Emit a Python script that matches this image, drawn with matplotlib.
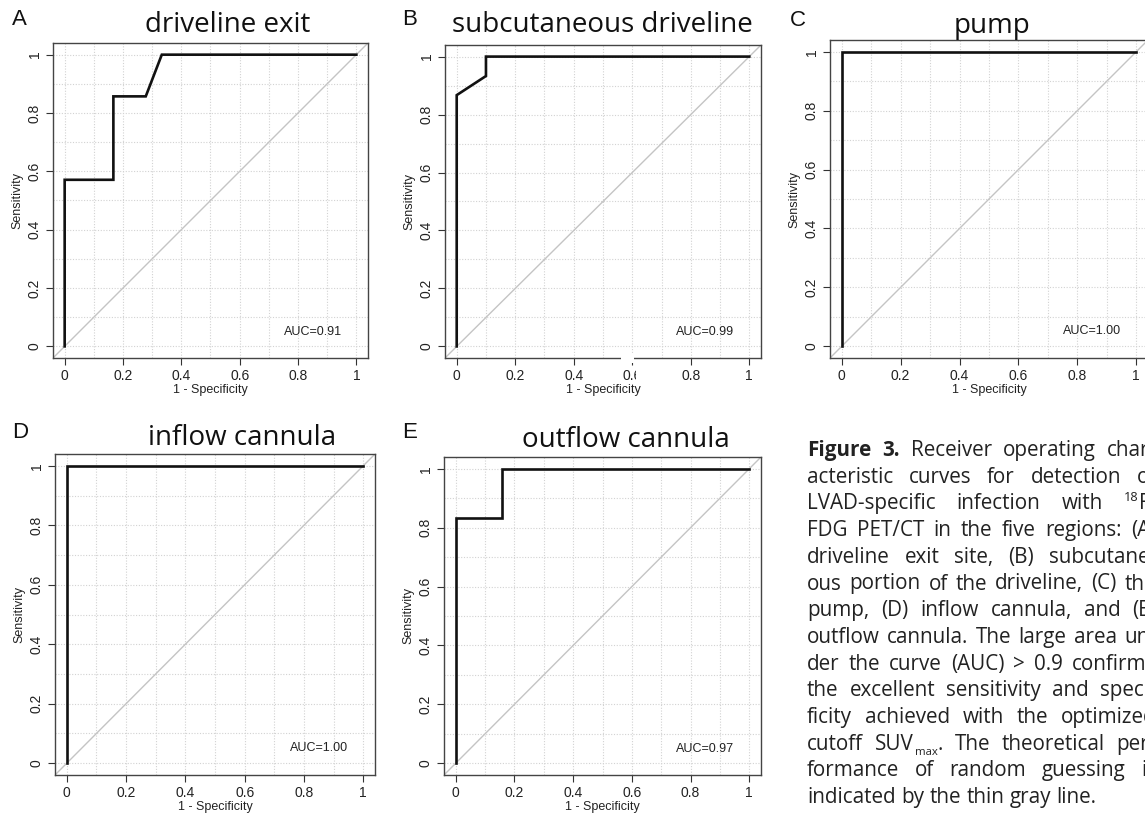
import matplotlib
matplotlib.use("Agg")
import matplotlib.pyplot as plt
from matplotlib.ticker import MultipleLocator
from matplotlib.patches import Rectangle

# ---------------- data ----------------
PANEL_LETTERS = ["A", "B", "C", "D", "E"]
TITLES = ["driveline exit", "subcutaneous driveline", "pump", "inflow cannula", "outflow cannula"]

A_FPR = [0, 0, 0.167, 0.167, 0.278, 0.333, 1]
A_TPR = [0, 0.571, 0.571, 0.857, 0.857, 1, 1]
B_FPR = [0, 0, 0.1, 0.1, 1]
B_TPR = [0, 0.867, 0.933, 1, 1]
C_FPR = [0, 0, 1]
C_TPR = [0, 1, 1]
D_FPR = [0, 0, 1]
D_TPR = [0, 1, 1]
E_FPR = [0, 0, 0.158, 0.158, 1]
E_TPR = [0, 0.833, 0.833, 1, 1]

AUC_LABELS = ["AUC=0.91", "AUC=0.99", "AUC=1.00", "AUC=1.00", "AUC=0.97"]
TICKS = [0, 0.2, 0.4, 0.6, 0.8, 1]
TICK_LABELS = ["0", "0.2", "0.4", "0.6", "0.8", "1"]
XLABEL = "1 - Specificity"
YLABEL = "Sensitivity"

CAPTION_LINES = [
    "Figure 3. Receiver operating char-",
    "acteristic curves for detection of",
    "LVAD-specific infection with ¹⁸F-",
    "FDG PET/CT in the five regions: (A)",
    "driveline exit site, (B) subcutane-",
    "ous portion of the driveline, (C) the",
    "pump, (D) inflow cannula, and (E)",
    "outflow cannula. The large area un-",
    "der the curve (AUC) > 0.9 confirms",
    "the excellent sensitivity and speci-",
    "ficity achieved with the optimized",
    "cutoff SUVmax. The theoretical per-",
    "formance of random guessing is",
    "indicated by the thin gray line.",
]

CURVES = [(A_FPR, A_TPR), (B_FPR, B_TPR), (C_FPR, C_TPR), (D_FPR, D_TPR), (E_FPR, E_TPR)]

# ---------------- layout (pixels) ----------------
W, H = 1145, 817
AX_RECTS = [  # left, top, right, bottom
    (53, 43, 368, 358),
    (445, 45, 761, 358),
    (830, 40, 1148, 358),
    (55, 454, 375, 775),
    (444, 457, 761, 775),
]
TITLE_POS = [(228, 32), (602, 32), (992, 33), (242, 445), (626, 447)]
LETTER_POS = [(12, 25), (402, 25), (790, 26), (12, 438), (402, 438)]

fig = plt.figure(figsize=(W / 100, H / 100), dpi=100)
fig.patch.set_facecolor("white")

AX_FONT = ["Liberation Sans", "DejaVu Sans"]
TITLE_FONT = ["Open Sans", "DejaVu Sans"]
CAP_FONT = ["Open Sans", "DejaVu Sans"]


def fx(x):
    return x / W


def fy(y):
    return 1 - y / H


for i, (rect, (fpr, tpr)) in enumerate(zip(AX_RECTS, CURVES)):
    l, t, r, b = rect
    ax = fig.add_axes([fx(l), fy(b), (r - l) / W, (b - t) / H])
    ax.set_xlim(-0.04, 1.04)
    ax.set_ylim(-0.04, 1.04)
    ax.set_xticks(TICKS, TICK_LABELS, fontfamily=AX_FONT, fontsize=10)
    ax.set_yticks(TICKS, TICK_LABELS, fontfamily=AX_FONT, fontsize=10)
    ax.xaxis.set_minor_locator(MultipleLocator(0.1))
    ax.yaxis.set_minor_locator(MultipleLocator(0.1))
    ax.grid(which="both", color="#d2d2d2", linestyle=(0, (1, 1.5)), linewidth=0.8)
    ax.set_axisbelow(True)
    ax.tick_params(which="minor", length=0)
    ax.tick_params(which="major", length=5, width=0.8, color="#333333",
                   labelcolor="#222222", pad=3)
    ax.tick_params(axis="y", labelrotation=90)
    for lbl in ax.get_yticklabels():
        lbl.set_va("center")
    for s in ax.spines.values():
        s.set_color("#444444")
        s.set_linewidth(1.0)
    ax.axline((0, 0), (1, 1), color="#c4c4c4", linewidth=1.0, zorder=2)
    ax.plot(fpr, tpr, color="#111111", linewidth=1.9, solid_joinstyle="miter", zorder=3)
    ax.text(0.85, 0.05, AUC_LABELS[i], ha="center", va="center",
            fontfamily=AX_FONT, fontsize=9, color="#222222")
    ax.set_xlabel(XLABEL, fontfamily=AX_FONT, fontsize=9, color="#222222")
    ax.set_ylabel(YLABEL, fontfamily=AX_FONT, fontsize=9, color="#222222")
    ax.xaxis.label.set_va("center")
    ax.yaxis.label.set_va("center")
    ax.xaxis.set_label_coords(0.5, -32 / (b - t))
    ax.yaxis.set_label_coords(-36 / (r - l), 0.5)

    tx, ty = TITLE_POS[i]
    fig.text(fx(tx), fy(ty), TITLES[i], ha="center", va="baseline",
             fontfamily=TITLE_FONT, fontsize=20, color="#111111")
    lx, ly = LETTER_POS[i]
    fig.text(fx(lx), fy(ly), PANEL_LETTERS[i], ha="left", va="baseline",
             fontfamily=AX_FONT, fontsize=16, color="#111111")

# scan artefact on panel B x-axis
fig.add_artist(Rectangle((fx(621), fy(363)), 13 / W, 9 / H, transform=fig.transFigure,
                         facecolor="white", edgecolor="none", zorder=20))
fig.add_artist(Rectangle((fx(636), fy(381)), 8 / W, 11 / H, transform=fig.transFigure,
                         facecolor="white", edgecolor="none", zorder=20))

# ---------------- caption (justified) ----------------
renderer = fig.canvas.get_renderer()
CAP_L, CAP_R = 807, 1156
BASE0, LINE_H = 456, 26.7
CAP_COLOR = "#222222"


def make_text(x, y, s, size, weight="normal"):
    return fig.text(fx(x), fy(y), s, ha="left", va="baseline", fontfamily=CAP_FONT,
                    fontsize=size, fontweight=weight, color=CAP_COLOR)


def text_w(s, size, weight="normal"):
    t = make_text(0, 0, s, size, weight)
    w = t.get_window_extent(renderer).width
    t.remove()
    return w


# font size so the last (unjustified) line spans 290 px
fs = 10 * 290 / text_w(CAPTION_LINES[-1], 10)
space_w = text_w("a a", fs) - text_w("aa", fs)

SPECIAL = {
    "¹⁸F-": [("18", "sup"), ("F-", "n")],
    "SUVmax.": [("SUV", "n"), ("max", "sub"), (".", "n")],
}


def segments(word, line_idx, word_idx):
    if word in SPECIAL:
        return SPECIAL[word]
    if line_idx == 0 and word_idx < 2:
        return [(word, "b")]
    return [(word, "n")]


def seg_props(style):
    if style == "b":
        return fs, "bold", 0
    if style == "sup":
        return fs * 0.62, "normal", -fs * 0.42 * 100 / 72
    if style == "sub":
        return fs * 0.55, "normal", fs * 0.28 * 100 / 72
    return fs, "normal", 0


def word_width(segs):
    tot = 0
    for s, st in segs:
        size, wt, _ = seg_props(st)
        tot += text_w(s, size, wt) + (1.5 if st == "sub" else 0)
    return tot


for li, line in enumerate(CAPTION_LINES):
    words = line.split(" ")
    segs_list = [segments(w_, li, wi) for wi, w_ in enumerate(words)]
    widths = [word_width(sg) for sg in segs_list]
    base = BASE0 + li * LINE_H
    if li < len(CAPTION_LINES) - 1 and len(words) > 1:
        gap = (CAP_R - CAP_L - sum(widths)) / (len(words) - 1)
    else:
        gap = space_w
    x = CAP_L
    for sg, wd in zip(segs_list, widths):
        xx = x
        for s, st in sg:
            size, wt, dy = seg_props(st)
            if st == "sub":
                xx += 1.5
            make_text(xx, base + dy, s, size, wt)
            xx += text_w(s, size, wt)
        x += wd + gap

fig.savefig("out.png", dpi=100)
